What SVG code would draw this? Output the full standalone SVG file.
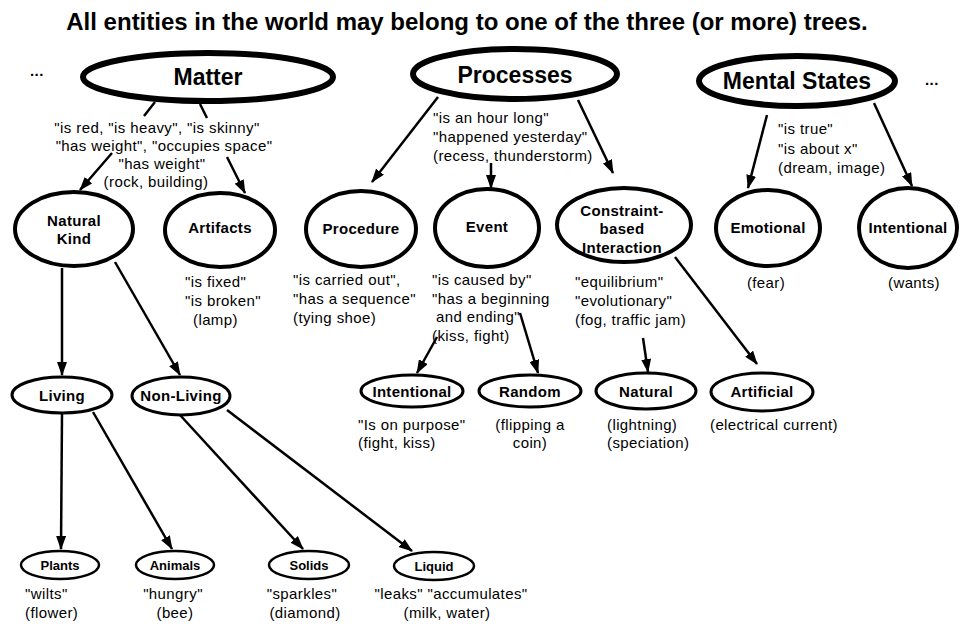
<svg xmlns="http://www.w3.org/2000/svg" width="963" height="626" viewBox="0 0 963 626">
<style>
text{font-family:"Liberation Sans",Arial,Helvetica,sans-serif;fill:#000}
.title{font-size:24px;font-weight:bold}
.l1{font-size:23px;font-weight:bold;text-anchor:middle}
.l2{font-size:15px;font-weight:bold;text-anchor:middle;letter-spacing:0.3px}
.l3{font-size:13px;font-weight:bold;text-anchor:middle}
.tx{font-size:15px;letter-spacing:0.4px}
.c{text-anchor:middle}
ellipse{fill:#fff;stroke:#000}
.e1{stroke-width:6}
.e2{stroke-width:4}
.e3{stroke-width:3}
.e4{stroke-width:2.5}
.edge{fill:none;stroke:#000;stroke-width:2.5;marker-end:url(#ah)}
</style>
<defs>
<marker id="ah" viewBox="0 0 14 10" refX="13" refY="5" markerWidth="14" markerHeight="10" markerUnits="userSpaceOnUse" orient="auto">
<path d="M0,0 L14,5 L0,10 z" fill="#000"/>
</marker>
</defs>
<rect width="963" height="626" fill="#fff"/>
<text class="title" x="467" y="30" text-anchor="middle">All entities in the world may belong to one of the three (or more) trees.</text>
<text class="tx" x="30" y="76" style="font-weight:bold">...</text>
<text class="tx" x="925" y="85" style="font-weight:bold">...</text>

<g id="connectors">
<path class="edge" d="M155,102 L144,116 M112,153 L80,190"/>
<path class="edge" d="M200,104 L207,118 M227,157 L245,193"/>
<path class="edge" d="M438,97 L372,182"/>
<path class="edge" d="M491,163 L491,188"/>
<path class="edge" d="M578,100 L613,173"/>
<path class="edge" d="M767,115 L748,188"/>
<path class="edge" d="M874,103 L912,186"/>
<path class="edge" d="M62,268 L62,375"/>
<path class="edge" d="M115,262 L180,375"/>
<path class="edge" d="M62,414 L61,549"/>
<path class="edge" d="M93,412 L172,549"/>
<path class="edge" d="M180,415 L303,549"/>
<path class="edge" d="M227,410 L412,551"/>
<path class="edge" d="M437,337 L417,373"/>
<path class="edge" d="M520,313 L538,373"/>
<path class="edge" d="M643,338 L648,372"/>
<path class="edge" d="M675,257 L757,364"/>
</g>

<g id="matter">
<ellipse class="e1" cx="208" cy="77" rx="125" ry="24"/>
<text class="l1" x="208" y="85">Matter</text>
<text class="tx c" x="157" y="133">"is red, "is heavy", "is skinny"</text>
<text class="tx c" x="164" y="151">"has weight", "occupies space"</text>
<text class="tx c" x="162" y="169">"has weight"</text>
<text class="tx c" x="156" y="187">(rock, building)</text>
</g>
<g id="processes">
<ellipse class="e1" cx="515" cy="74" rx="102" ry="25"/>
<text class="l1" x="515" y="83">Processes</text>
<text class="tx" x="433" y="123">"is an hour long"</text>
<text class="tx" x="433" y="142">"happened yesterday"</text>
<text class="tx" x="433" y="161">(recess, thunderstorm)</text>
</g>
<g id="mental-states">
<ellipse class="e1" cx="797" cy="81" rx="98" ry="25"/>
<text class="l1" x="797" y="89">Mental States</text>
<text class="tx" x="778" y="134">"is true"</text>
<text class="tx" x="778" y="154">"is about x"</text>
<text class="tx" x="778" y="173">(dream, image)</text>
</g>

<g id="natural-kind">
<ellipse class="e2" cx="74" cy="229" rx="59" ry="37"/>
<text class="l2" x="74" y="226">Natural</text>
<text class="l2" x="74" y="244">Kind</text>
</g>
<g id="artifacts">
<ellipse class="e2" cx="220" cy="230" rx="55" ry="37"/>
<text class="l2" x="220" y="233">Artifacts</text>
<text class="tx" x="185" y="287">"is fixed"</text>
<text class="tx" x="185" y="306">"is broken"</text>
<text class="tx" x="193" y="325">(lamp)</text>
</g>
<g id="procedure">
<ellipse class="e2" cx="361" cy="229" rx="55" ry="38"/>
<text class="l2" x="361" y="234">Procedure</text>
<text class="tx" x="293" y="285">"is carried out",</text>
<text class="tx" x="293" y="304">"has a sequence"</text>
<text class="tx" x="293" y="323">(tying shoe)</text>
</g>
<g id="event">
<ellipse class="e2" cx="487" cy="228" rx="52" ry="39"/>
<text class="l2" x="487" y="232">Event</text>
<text class="tx" x="432" y="285">"is caused by"</text>
<text class="tx" x="432" y="304">"has a beginning</text>
<text class="tx" x="436" y="322">and ending"</text>
<text class="tx" x="432" y="341">(kiss, fight)</text>
</g>
<g id="constraint-based-interaction">
<ellipse class="e2" cx="624" cy="225" rx="67" ry="37"/>
<text class="l2" x="622" y="216">Constraint-</text>
<text class="l2" x="622" y="234">based</text>
<text class="l2" x="622" y="253">Interaction</text>
<text class="tx" x="575" y="287">"equilibrium"</text>
<text class="tx" x="575" y="306">"evolutionary"</text>
<text class="tx" x="575" y="325">(fog, traffic jam)</text>
</g>
<g id="emotional">
<ellipse class="e2" cx="768" cy="228" rx="52" ry="38"/>
<text class="l2" x="768" y="233">Emotional</text>
<text class="tx c" x="766" y="288">(fear)</text>
</g>
<g id="intentional-mental">
<ellipse class="e2" cx="908" cy="228" rx="49" ry="40"/>
<text class="l2" x="908" y="233">Intentional</text>
<text class="tx c" x="914" y="288">(wants)</text>
</g>

<g id="living">
<ellipse class="e3" cx="62" cy="395" rx="50" ry="18"/>
<text class="l2" x="62" y="401">Living</text>
</g>
<g id="non-living">
<ellipse class="e3" cx="181" cy="396" rx="49" ry="19"/>
<text class="l2" x="181" y="401">Non-Living</text>
</g>
<g id="intentional-event">
<ellipse class="e3" cx="412" cy="391" rx="51" ry="16"/>
<text class="l2" x="412" y="397">Intentional</text>
<text class="tx" x="358" y="430">"Is on purpose"</text>
<text class="tx" x="358" y="448">(fight, kiss)</text>
</g>
<g id="random">
<ellipse class="e3" cx="530" cy="391" rx="51" ry="16"/>
<text class="l2" x="530" y="397">Random</text>
<text class="tx c" x="530" y="430">(flipping a</text>
<text class="tx c" x="530" y="448">coin)</text>
</g>
<g id="natural">
<ellipse class="e3" cx="646" cy="391" rx="50" ry="18"/>
<text class="l2" x="646" y="397">Natural</text>
<text class="tx" x="607" y="430">(lightning)</text>
<text class="tx" x="607" y="448">(speciation)</text>
</g>
<g id="artificial">
<ellipse class="e3" cx="762" cy="392" rx="51" ry="19"/>
<text class="l2" x="762" y="397">Artificial</text>
<text class="tx c" x="774" y="430">(electrical current)</text>
</g>

<g id="plants">
<ellipse class="e4" cx="60" cy="565" rx="39" ry="14"/>
<text class="l3" x="60" y="570">Plants</text>
<text class="tx" x="25" y="599">"wilts"</text>
<text class="tx" x="25" y="618">(flower)</text>
</g>
<g id="animals">
<ellipse class="e4" cx="175" cy="565" rx="39" ry="14"/>
<text class="l3" x="175" y="570">Animals</text>
<text class="tx c" x="173" y="599">"hungry"</text>
<text class="tx c" x="175" y="618">(bee)</text>
</g>
<g id="solids">
<ellipse class="e4" cx="309" cy="565" rx="40" ry="14"/>
<text class="l3" x="309" y="570">Solids</text>
<text class="tx c" x="302" y="599">"sparkles"</text>
<text class="tx c" x="305" y="618">(diamond)</text>
</g>
<g id="liquid">
<ellipse class="e4" cx="434" cy="566" rx="40" ry="14"/>
<text class="l3" x="434" y="571">Liquid</text>
<text class="tx c" x="451" y="599">"leaks"  "accumulates"</text>
<text class="tx c" x="447" y="618">(milk, water)</text>
</g>
</svg>
